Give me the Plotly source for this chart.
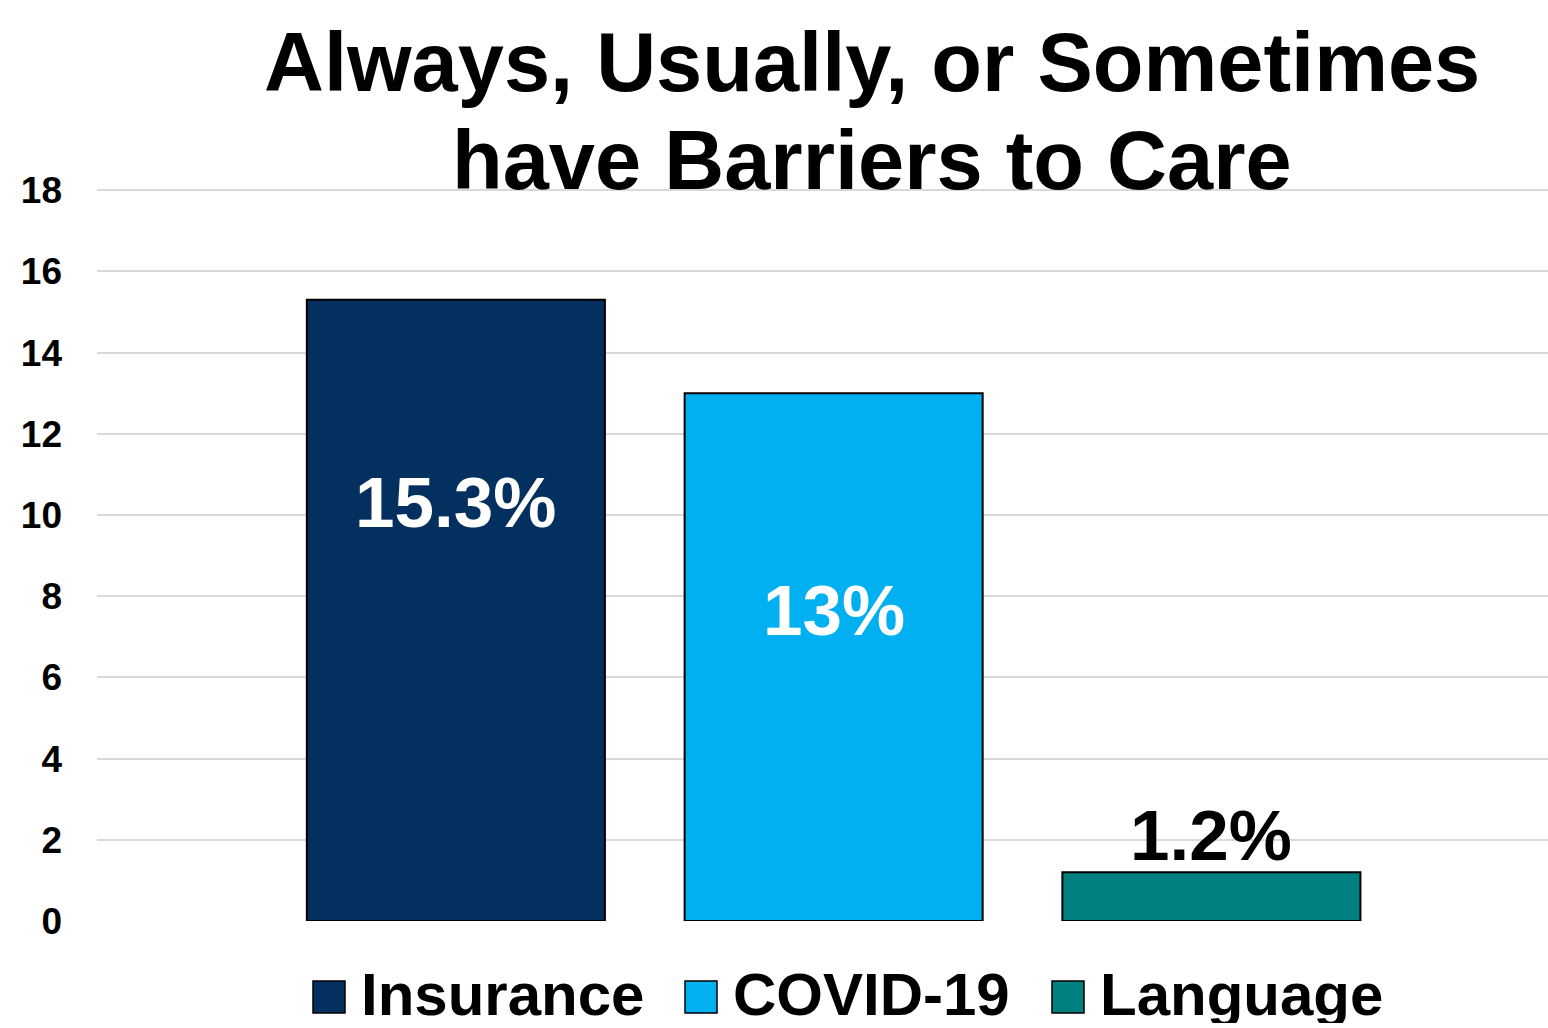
import plotly.graph_objects as go

categories = ["Insurance", "COVID-19", "Language"]
values = [15.3, 13.0, 1.2]
value_labels = ["15.3%", "13%", "1.2%"]
label_y = [10.3, 7.65, 2.1]
label_colors = ["white", "white", "black"]
colors = ["#03305F", "#00B0F0", "#008080"]
y_ticks = [0, 2, 4, 6, 8, 10, 12, 14, 16, 18]
title_lines = ["Always, Usually, or Sometimes", "have Barriers to Care"]

FONT = "Liberation Sans, Arial, sans-serif"
W, H = 1548, 1028
L, R, T, B = 97, 0, 189, 107
pw = W - L - R
ph = H - T - B


def py2paper(py):
    return (H - B - py) / ph


def px2paper(px):
    return (px - L) / pw


fig = go.Figure()
for c, v, col in zip(categories, values, colors):
    fig.add_trace(go.Bar(
        x=[c], y=[v], name=c,
        marker=dict(color=col, line=dict(color="black", width=2)),
        showlegend=False, hoverinfo="skip",
    ))

annotations = []
for c, t, ly, lc in zip(categories, value_labels, label_y, label_colors):
    annotations.append(dict(
        x=c, y=ly, xref="x", yref="y", text="<b>%s</b>" % t, showarrow=False,
        font=dict(family=FONT, size=71, color=lc), xanchor="center", yanchor="middle",
    ))

# title as two lines (tighter line spacing than plotly's title)
for line, cy in zip(title_lines, [63, 161]):
    annotations.append(dict(
        x=px2paper(872), y=py2paper(cy), xref="paper", yref="paper",
        text="<b>%s</b>" % line, showarrow=False, xanchor="center", yanchor="middle",
        font=dict(family=FONT, size=83, color="black"),
    ))

# manual legend with large square swatches
legend_px = [313, 685, 1052]
sq = 32
ycen = 997
text_cy = 994
shapes = []
for c, col, px in zip(categories, colors, legend_px):
    shapes.append(dict(type="rect", xref="paper", yref="paper",
                       x0=px2paper(px), x1=px2paper(px + sq),
                       y0=py2paper(ycen + sq / 2), y1=py2paper(ycen - sq / 2),
                       fillcolor=col, line=dict(color="black", width=1.5)))
    annotations.append(dict(
        x=px2paper(px + sq + 14), y=py2paper(text_cy), xref="paper", yref="paper",
        text="<b>%s</b>" % c, showarrow=False, xanchor="left", yanchor="middle",
        height=58, valign="middle",
        font=dict(family=FONT, size=60, color="black"),
    ))

fig.update_layout(
    width=W, height=H,
    margin=dict(l=L, r=R, t=T, b=B),
    paper_bgcolor="white", plot_bgcolor="white",
    barmode="relative", bargap=0.211,
    xaxis=dict(range=[-0.950, 2.891], showticklabels=False, showgrid=False,
               zeroline=False, showline=False, ticks=""),
    yaxis=dict(range=[0, 18.03], tickvals=y_ticks, ticktext=["<b>%d</b>" % v for v in y_ticks],
               showgrid=True, gridcolor="#D9D9D9", gridwidth=2, zeroline=False,
               showline=False, ticks="", ticklabelstandoff=34,
               tickfont=dict(family=FONT, size=37, color="black")),
    annotations=annotations,
    shapes=shapes,
    showlegend=False,
)

fig.write_html("out.html")
